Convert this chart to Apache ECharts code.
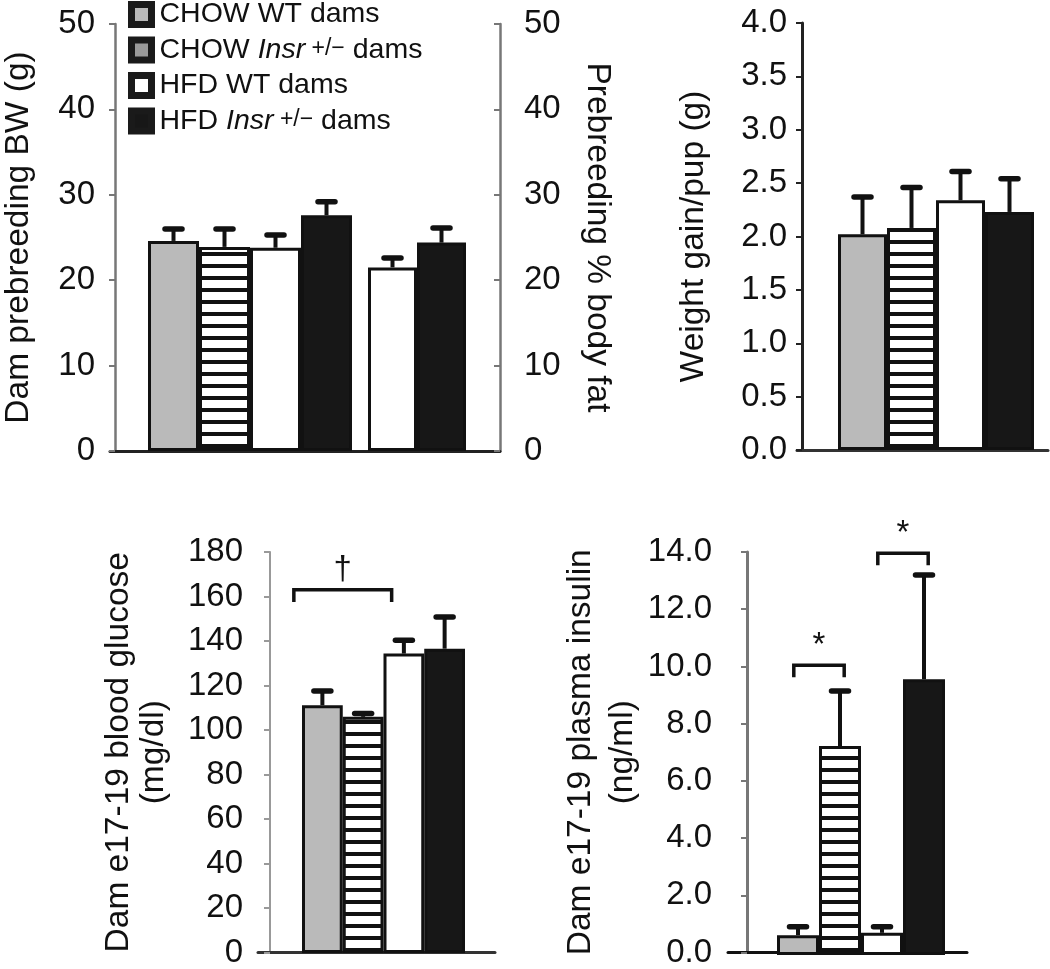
<!DOCTYPE html>
<html><head><meta charset="utf-8">
<script src="https://cdn.jsdelivr.net/npm/echarts@6/dist/echarts.min.js"></script>
<style>html,body{margin:0;padding:0;background:#fff}#c{width:1050px;height:969px}</style>
</head><body><div id="c"></div>
<script>
// ---------------- data ----------------
const groups = ['CHOW WT dams', 'CHOW Insr+/- dams', 'HFD WT dams', 'HFD Insr+/- dams'];
const fatGroups = ['HFD WT dams', 'HFD Insr+/- dams'];

const bwMean = [24.6, 23.9, 23.8, 27.6];
const bwSem = [1.4, 2.1, 1.5, 1.6];
const fatMean = [21.5, 24.4];
const fatSem = [1.1, 1.7];
const gainMean = [2.02, 2.08, 2.34, 2.23];
const gainSem = [0.35, 0.38, 0.27, 0.31];
const glucoseMean = [111.2, 106.0, 134.4, 136.6];
const glucoseSem = [6.4, 1.5, 6.0, 14.2];
const insulinMean = [0.69, 7.26, 0.77, 9.58];
const insulinSem = [0.29, 1.91, 0.21, 3.62];

const bwTicks = [0, 10, 20, 30, 40, 50];
const fatTicks = [0, 10, 20, 30, 40, 50];
const gainTicks = [0, 0.5, 1, 1.5, 2, 2.5, 3, 3.5, 4];
const glucoseTicks = [0, 20, 40, 60, 80, 100, 120, 140, 160, 180];
const insulinTicks = [0, 2, 4, 6, 8, 10, 12, 14];

// brackets: [fromCategory, toCategory, bracketY, legBottomY]
const glucoseBrackets = [[0, 1, 163, 157.6]];
const glucoseMarks = ['†'];
const insulinBrackets = [[0, 1, 10.07, 9.65], [2, 3, 13.96, 13.54]];
const insulinMarks = ['*', '*'];

// ---------------- styles ----------------
const FONT = "'Liberation Sans', Arial, Helvetica, sans-serif";
const INK = '#111';
const TICK_FS = 33, NAME_FS = 33.5;
const cv = document.createElement('canvas');
cv.width = 8; cv.height = 12;
const cx = cv.getContext('2d');
cx.fillStyle = '#fff'; cx.fillRect(0, 0, 8, 12);
cx.fillStyle = '#111'; cx.fillRect(0, 0, 8, 4);
const stripe = { image: cv, repeat: 'repeat' };
const groupColor = {
  'CHOW WT dams': '#bababa',
  'CHOW Insr+/- dams': stripe,
  'HFD WT dams': '#ffffff',
  'HFD Insr+/- dams': '#171717'
};
const legendIconColor = {
  'CHOW WT dams': '#bababa',
  'CHOW Insr+/- dams': '#9a9a9a',
  'HFD WT dams': '#ffffff',
  'HFD Insr+/- dams': '#171717'
};
const legendText = {
  'CHOW WT dams': '{n|CHOW WT dams}',
  'CHOW Insr+/- dams': '{n|CHOW }{i|Insr}{s| +/−}{n| dams}',
  'HFD WT dams': '{n|HFD WT dams}',
  'HFD Insr+/- dams': '{n|HFD }{i|Insr}{s| +/−}{n| dams}'
};

const grids = [];
const xAxes = [];
const yAxes = [];
const series = [];

function tickRange(t) { return { min: t[0], max: t[t.length - 1], interval: t[1] - t[0] }; }

// frame grid: shows y axis + baseline
function addFrame(g, ticks, opts) {
  const gi = grids.length;
  grids.push(g);
  xAxes.push({
    type: 'category', gridIndex: gi, data: [''],
    axisLine: { show: true, lineStyle: { color: opts.baseColor, width: opts.baseWidth } },
    axisTick: { show: false }, axisLabel: { show: false }, splitLine: { show: false }
  });
  const r = tickRange(ticks);
  const yi = yAxes.length;
  yAxes.push({
    type: 'value', gridIndex: gi, min: r.min, max: r.max, interval: r.interval,
    offset: opts.offset || 0,
    axisLine: { show: true, lineStyle: { color: opts.axisColor, width: opts.axisWidth } },
    axisTick: { show: true, length: 6, inside: false, lineStyle: { color: opts.axisColor, width: 2 } },
    splitLine: { show: false },
    axisLabel: { color: INK, fontSize: TICK_FS, fontFamily: FONT, margin: opts.labelMargin,
      formatter: opts.fmt || (v => String(v)) },
    name: opts.name, nameLocation: 'middle', nameGap: opts.nameGap, nameRotate: 90,
    nameTextStyle: { color: INK, fontSize: NAME_FS, fontFamily: FONT, lineHeight: opts.nameLH || 36 }
  });
  if (opts.right) {
    const r2 = tickRange(opts.right.ticks);
    yAxes.push({
      type: 'value', gridIndex: gi, position: 'right', min: r2.min, max: r2.max, interval: r2.interval,
      axisLine: { show: true, lineStyle: { color: opts.axisColor, width: opts.axisWidth } },
      axisTick: { show: true, length: 6, inside: true, lineStyle: { color: opts.axisColor, width: 2 } },
      splitLine: { show: false },
      axisLabel: { color: INK, fontSize: TICK_FS, fontFamily: FONT, margin: opts.right.labelMargin },
      name: opts.right.name, nameLocation: 'middle', nameGap: opts.right.nameGap, nameRotate: -90,
      nameTextStyle: { color: INK, fontSize: NAME_FS, fontFamily: FONT }
    });
  }
  series.push({ type: 'line', xAxisIndex: gi, yAxisIndex: yi, data: [], silent: true });
}

function errRender(params, api) {
  const i = api.value(0), m = api.value(1), s = api.value(2);
  const p0 = api.coord([i, m]);
  const p1 = api.coord([i, m + s]);
  return { type: 'group', children: [
    { type: 'line', shape: { x1: p0[0], y1: p0[1], x2: p1[0], y2: p1[1] }, style: { stroke: INK, lineWidth: 4 } },
    { type: 'line', shape: { x1: p1[0] - 8.5, y1: p1[1], x2: p1[0] + 8.5, y2: p1[1] }, style: { stroke: INK, lineWidth: 5.5, lineCap: 'round' } }
  ] };
}

function makeBracketRender(marks, ext) {
  return function (params, api) {
    const a = api.coord([api.value(0), api.value(2)]);
    const b = api.coord([api.value(1), api.value(2)]);
    const legY = api.coord([api.value(0), api.value(3)])[1];
    const bw = api.size([1, 0])[0];
    const x0 = a[0] - ext * bw, x1 = b[0] + ext * bw;
    return { type: 'group', children: [
      { type: 'polyline', shape: { points: [[x0, legY], [x0, a[1]], [x1, a[1]], [x1, legY]] },
        style: { stroke: INK, lineWidth: 3.5, fill: null } },
      { type: 'text', x: (x0 + x1) / 2, y: a[1] - 3,
        style: { text: marks[params.dataIndex], font: '33px ' + FONT, fill: INK, align: 'center', verticalAlign: 'bottom' } }
    ] };
  };
}

// bar grid: bars + error bars (+ brackets)
function addBars(g, cats, means, sems, ticks, brackets, marks, ext) {
  const gi = grids.length;
  grids.push(g);
  xAxes.push({ type: 'category', gridIndex: gi, data: cats, show: false });
  const r = tickRange(ticks);
  const yi = yAxes.length;
  yAxes.push({ type: 'value', gridIndex: gi, min: r.min, max: r.max, interval: r.interval, show: false });
  cats.forEach((name, k) => {
    series.push({
      type: 'bar', name: name, xAxisIndex: gi, yAxisIndex: yi,
      barGap: '-100%', barCategoryGap: '0%',
      data: cats.map((c, j) => j === k ? means[j] : '-'),
      itemStyle: { color: groupColor[name], borderColor: INK, borderWidth: 3 },
      emphasis: { disabled: true }, z: 2
    });
  });
  series.push({
    type: 'custom', xAxisIndex: gi, yAxisIndex: yi, renderItem: errRender, z: 5,
    encode: { x: 0, y: 1 },
    data: means.map((m, i) => [i, m, sems[i]])
  });
  if (brackets) {
    series.push({
      type: 'custom', xAxisIndex: gi, yAxisIndex: yi, renderItem: makeBracketRender(marks, ext), z: 6,
      encode: { x: 0, y: 2 }, clip: false,
      data: brackets
    });
  }
}

// Panel 1: body weight + body fat
addFrame({ left: 107, top: 24, width: 393, height: 427 }, bwTicks, {
  baseColor: '#222', baseWidth: 3, axisColor: '#777', axisWidth: 2.5, offset: -5,
  labelMargin: 20, name: 'Dam prebreeding BW (g)', nameGap: 78,
  right: { ticks: fatTicks, labelMargin: 24, name: 'Prebreeding % body fat', nameGap: 80 }
});
addBars({ left: 148, top: 24, width: 204, height: 427 }, groups, bwMean, bwSem, bwTicks);
addBars({ left: 368, top: 24, width: 98, height: 427 }, fatGroups, fatMean, fatSem, fatTicks);

// Panel 2: weight gain per pup
addFrame({ left: 797, top: 23, width: 251, height: 427 }, gainTicks, {
  baseColor: '#333', baseWidth: 3, axisColor: '#222', axisWidth: 3, offset: -5,
  labelMargin: 15, name: 'Weight gain/pup (g)', nameGap: 90, fmt: v => v.toFixed(1)
});
addBars({ left: 838, top: 23, width: 196, height: 427 }, groups, gainMean, gainSem, gainTicks);

// Panel 3: glucose
addFrame({ left: 258, top: 552, width: 237, height: 401 }, glucoseTicks, {
  baseColor: '#333', baseWidth: 3, axisColor: '#999', axisWidth: 2, offset: -12,
  labelMargin: 27, name: 'Dam e17-19 blood glucose\n(mg/dl)', nameGap: 99, nameLH: 35
});
addBars({ left: 302, top: 552, width: 163, height: 401 }, groups, glucoseMean, glucoseSem, glucoseTicks,
  glucoseBrackets, glucoseMarks, 0.7);

// Panel 4: insulin
addFrame({ left: 728, top: 552, width: 239, height: 403 }, insulinTicks, {
  baseColor: '#111', baseWidth: 3, axisColor: '#777', axisWidth: 3, offset: -19,
  labelMargin: 35, name: 'Dam e17-19 plasma insulin\n(ng/ml)', nameGap: 96, nameLH: 42,
  fmt: v => v.toFixed(1)
});
addBars({ left: 777, top: 552, width: 168, height: 403 }, groups, insulinMean, insulinSem, insulinTicks,
  insulinBrackets, insulinMarks, 0.1);

const chart = echarts.init(document.getElementById('c'), null, { renderer: 'canvas' });
chart.setOption({
  animation: false,
  backgroundColor: '#fff',
  grid: grids,
  xAxis: xAxes,
  yAxis: yAxes,
  legend: {
    orient: 'vertical', left: 123, top: -5, itemWidth: 20, itemHeight: 20, itemGap: 6.5,
    selectedMode: false, icon: 'rect',
    data: groups.map(n => ({ name: n, itemStyle: { color: legendIconColor[n], borderColor: '#1a1a1a', borderWidth: 7 } })),
    formatter: n => legendText[n],
    textStyle: {
      padding: [0, 0, 0, 3],
      rich: {
        n: { fontSize: 28.5, fontFamily: FONT, color: INK, lineHeight: 26 },
        i: { fontSize: 28.5, fontFamily: FONT, color: INK, fontStyle: 'italic', lineHeight: 26 },
        s: { fontSize: 23, fontFamily: FONT, color: INK, lineHeight: 8, verticalAlign: 'top' }
      }
    }
  },
  series: series
});
</script></body></html>
